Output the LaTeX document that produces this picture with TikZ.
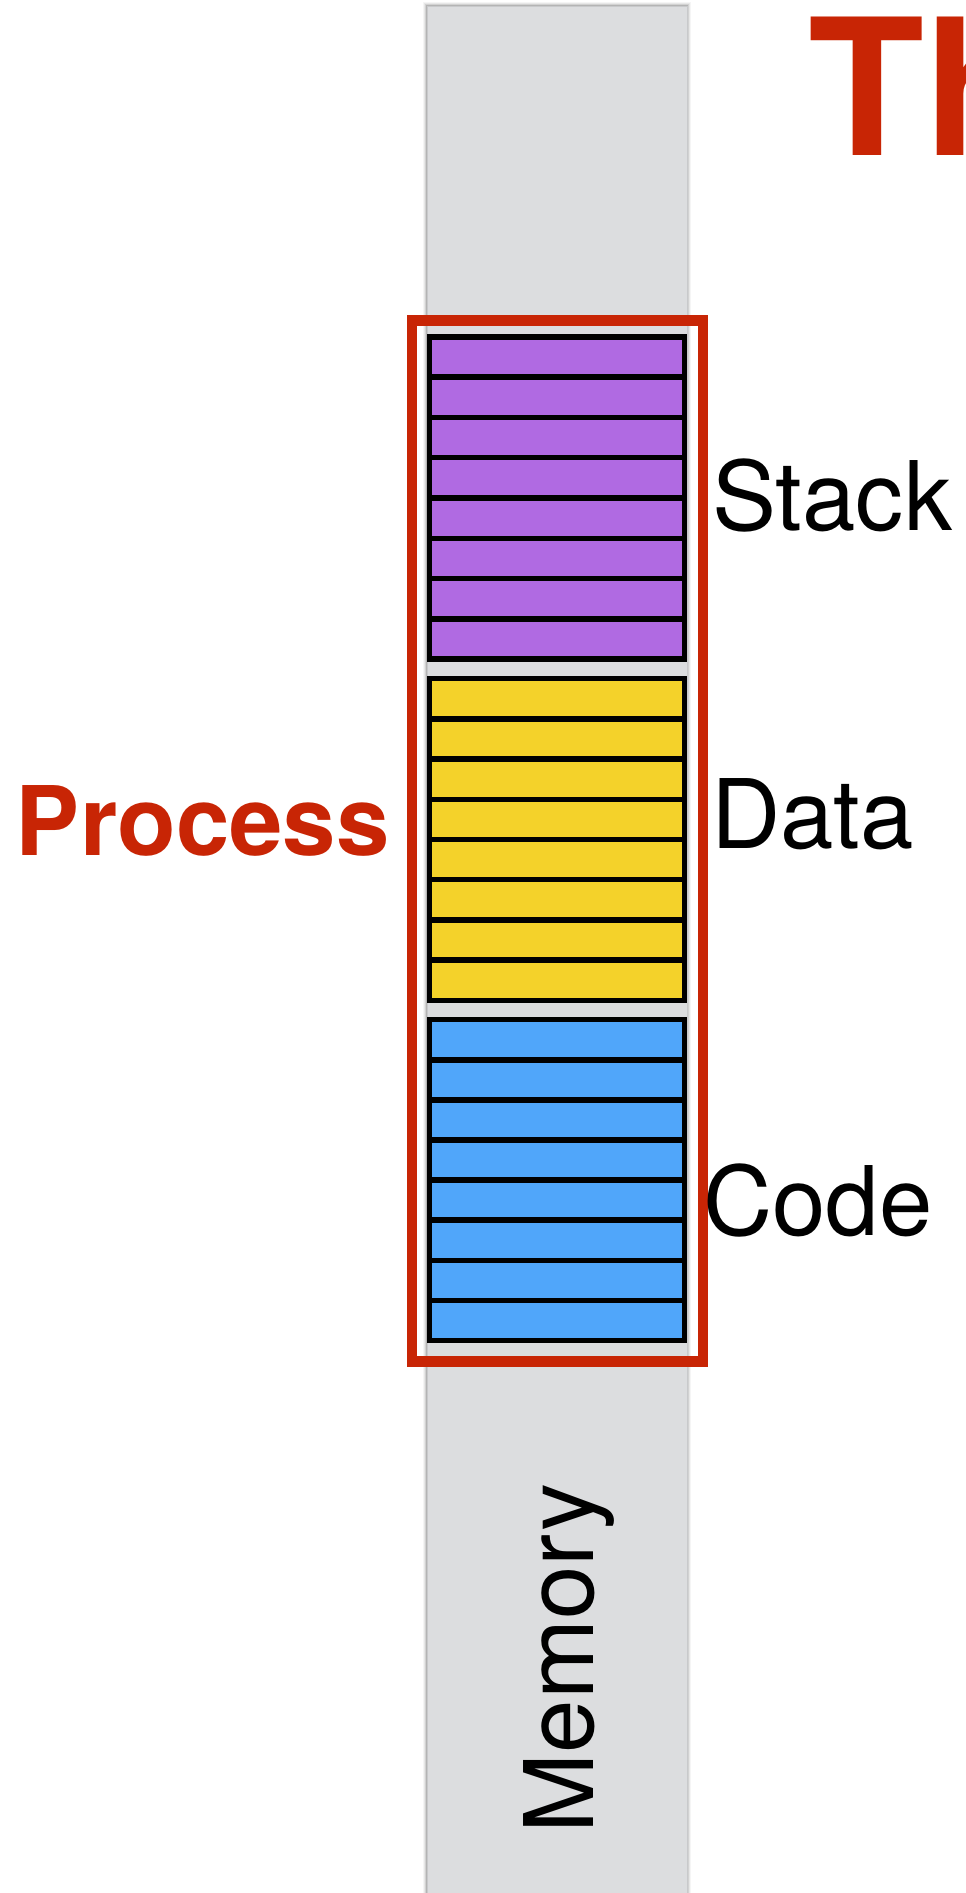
\documentclass[tikz,border=0pt]{standalone}
\usepackage{fontspec}
\setmainfont{TeX Gyre Heros}
\definecolor{memgray}{RGB}{220,221,223}
\definecolor{memedge}{RGB}{200,201,203}
\definecolor{stackc}{RGB}{176,106,226}
\definecolor{datac}{RGB}{244,210,42}
\definecolor{codec}{RGB}{80,166,250}
\definecolor{procred}{RGB}{200,37,5}
\begin{document}
\begin{tikzpicture}[x=1pt,y=-1pt,
  cell/.style={draw=black,line width=5.5pt,minimum width=255pt,minimum height=40.3pt,inner sep=0pt,outer sep=0pt},
  seglabel/.style={font=\fontsize{96}{100}\selectfont,anchor=base west,inner sep=0pt,outer sep=0pt},
  redlabel/.style={font=\bfseries\fontsize{#1}{#1}\selectfont,text=procred,anchor=base west,inner sep=0pt,outer sep=0pt},
]
\useasboundingbox (0,0) rectangle (966,1893);
\clip (0,0) rectangle (966,1893);

% soft shadow along the memory column
\foreach \d/\o in {4/0.04,3/0.06,2/0.09,1/0.14}{
  \fill[black,opacity=\o] (427-\d,6-\d) rectangle (687+\d,1900);
}
% memory column
\node[fill=memgray,draw=memedge,line width=0.6pt,minimum width=260pt,minimum height=1900pt,
      inner sep=0pt,outer sep=0pt,anchor=north west] (mem) at (427,6) {};
\node[seglabel,rotate=90] (memlbl) at (593,1833) {Memory};

% process outline
\node[draw=procred,line width=10.5pt,minimum width=291pt,minimum height=1041pt,
      inner sep=0pt,outer sep=0pt] (proc) at (557.5,841) {};

% stack, data and code segments, eight cells each
\foreach \i in {0,...,7}{
  \node[cell,fill=stackc] (s\i) at (557,{336.75+(\i+0.5)*40.3}) {};
  \node[cell,fill=datac]  (d\i) at (557,{678.75+(\i+0.5)*40.2}) {};
  \node[cell,fill=codec]  (c\i) at (557,{1019.75+(\i+0.5)*40.1}) {};
}

% segment labels
\node[seglabel] (stacklbl) at (712,530) {Stack};
\node[seglabel] (datalbl) at (711,848) {Data};
\node[seglabel] (codelbl) at (703,1235) {Code};

% process label and heading
\node[redlabel=96] (proclbl) at (16,855) {Process};
\node[redlabel=190] (title) at (808,155) {Th};
\end{tikzpicture}
\end{document}
